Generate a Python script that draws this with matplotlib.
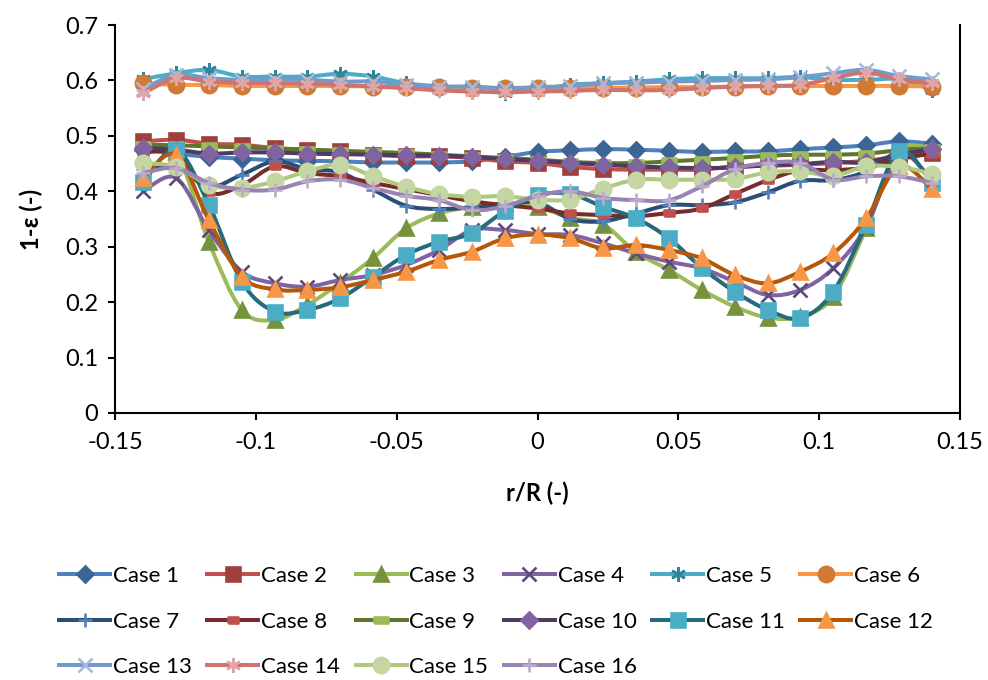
import numpy as np
import matplotlib
matplotlib.use("Agg")
import matplotlib.pyplot as plt
from matplotlib.path import Path
from matplotlib.patches import PathPatch
from matplotlib.lines import Line2D

plt.rcParams["font.family"] = ["Lato", "DejaVu Sans"]

# radial positions r/R
r = [-0.14, -0.1283, -0.1167, -0.105, -0.0933, -0.0817, -0.07, -0.0583, -0.0467,
     -0.035, -0.0233, -0.0117, 0.0, 0.0117, 0.0233, 0.035, 0.0467, 0.0583, 0.07,
     0.0817, 0.0933, 0.105, 0.1167, 0.1283, 0.14]

case1 = [0.475, 0.468, 0.462, 0.459, 0.456, 0.455, 0.454, 0.452, 0.452, 0.452, 0.454, 0.462, 0.471,
         0.474, 0.476, 0.475, 0.473, 0.471, 0.472, 0.472, 0.476, 0.479, 0.483, 0.490, 0.486]
case2 = [0.490, 0.493, 0.486, 0.484, 0.478, 0.475, 0.472, 0.466, 0.463, 0.463, 0.460, 0.454, 0.451,
         0.444, 0.440, 0.439, 0.439, 0.439, 0.445, 0.446, 0.448, 0.451, 0.455, 0.463, 0.469]
case3 = [0.468, 0.470, 0.309, 0.186, 0.168, 0.195, 0.235, 0.280, 0.333, 0.360, 0.372, 0.378, 0.372,
         0.352, 0.340, 0.290, 0.258, 0.222, 0.192, 0.172, 0.174, 0.210, 0.333, 0.470, 0.478]
case4 = [0.400, 0.424, 0.330, 0.255, 0.234, 0.228, 0.240, 0.249, 0.267, 0.294, 0.330, 0.330, 0.323,
         0.321, 0.306, 0.288, 0.273, 0.261, 0.237, 0.213, 0.222, 0.261, 0.336, 0.465, 0.420]
case5 = [0.602, 0.613, 0.619, 0.607, 0.607, 0.607, 0.612, 0.607, 0.595, 0.589, 0.583, 0.578, 0.583,
         0.592, 0.595, 0.598, 0.602, 0.604, 0.604, 0.604, 0.606, 0.601, 0.601, 0.602, 0.583]
case6 = [0.595, 0.592, 0.592, 0.590, 0.590, 0.590, 0.590, 0.589, 0.589, 0.588, 0.586, 0.586, 0.586,
         0.586, 0.587, 0.587, 0.588, 0.588, 0.589, 0.590, 0.590, 0.590, 0.590, 0.590, 0.589]
case7 = [0.440, 0.445, 0.408, 0.430, 0.454, 0.440, 0.434, 0.403, 0.374, 0.368, 0.371, 0.375, 0.380,
         0.350, 0.346, 0.360, 0.375, 0.375, 0.380, 0.398, 0.419, 0.420, 0.436, 0.472, 0.476]
case8 = [0.470, 0.466, 0.398, 0.411, 0.445, 0.433, 0.427, 0.415, 0.404, 0.393, 0.382, 0.375, 0.369,
         0.360, 0.357, 0.355, 0.361, 0.369, 0.395, 0.420, 0.438, 0.438, 0.443, 0.458, 0.468]
case9 = [0.484, 0.483, 0.481, 0.479, 0.477, 0.475, 0.473, 0.471, 0.469, 0.466, 0.463, 0.460, 0.457,
         0.453, 0.451, 0.451, 0.454, 0.457, 0.460, 0.464, 0.466, 0.466, 0.468, 0.474, 0.478]
case10 = [0.478, 0.475, 0.468, 0.470, 0.470, 0.468, 0.467, 0.466, 0.465, 0.464, 0.462, 0.458, 0.455,
          0.451, 0.448, 0.445, 0.443, 0.442, 0.443, 0.447, 0.449, 0.453, 0.452, 0.466, 0.476]
case11 = [0.416, 0.475, 0.376, 0.237, 0.183, 0.186, 0.207, 0.246, 0.285, 0.309, 0.324, 0.364, 0.393,
          0.395, 0.372, 0.351, 0.315, 0.262, 0.219, 0.186, 0.171, 0.219, 0.340, 0.472, 0.415]
case12 = [0.424, 0.466, 0.348, 0.246, 0.223, 0.222, 0.227, 0.240, 0.255, 0.276, 0.291, 0.315, 0.322,
          0.315, 0.297, 0.303, 0.294, 0.279, 0.249, 0.234, 0.255, 0.288, 0.351, 0.445, 0.404]
case13 = [0.585, 0.610, 0.604, 0.601, 0.601, 0.601, 0.598, 0.598, 0.592, 0.589, 0.589, 0.586, 0.588,
          0.590, 0.595, 0.596, 0.598, 0.599, 0.601, 0.602, 0.606, 0.613, 0.619, 0.608, 0.602]
case14 = [0.577, 0.604, 0.598, 0.596, 0.595, 0.594, 0.592, 0.589, 0.586, 0.582, 0.580, 0.579, 0.580,
          0.581, 0.583, 0.582, 0.583, 0.586, 0.589, 0.590, 0.592, 0.604, 0.614, 0.602, 0.595]
case15 = [0.451, 0.444, 0.412, 0.406, 0.418, 0.436, 0.448, 0.427, 0.408, 0.395, 0.390, 0.391, 0.385,
          0.385, 0.405, 0.421, 0.421, 0.421, 0.422, 0.434, 0.436, 0.428, 0.445, 0.444, 0.432]
case16 = [0.433, 0.442, 0.415, 0.403, 0.403, 0.418, 0.421, 0.406, 0.392, 0.384, 0.366, 0.373, 0.392,
          0.400, 0.388, 0.384, 0.384, 0.409, 0.440, 0.451, 0.451, 0.421, 0.427, 0.427, 0.415]

labels = ["Case %d" % i for i in range(1, 17)]
series = [case1, case2, case3, case4, case5, case6, case7, case8,
          case9, case10, case11, case12, case13, case14, case15, case16]

line_colors = ["#4F81BD", "#C0504D", "#9BBB59", "#8064A2", "#4BACC6", "#F79646",
               "#2C4D75", "#772C2A", "#5F7530", "#4D3B62", "#276A7C", "#B65708",
               "#729ACA", "#CD7371", "#AFC97A", "#9983B5"]
marker_colors = ["#3A6595", "#A0403D", "#76923C", "#5F497A", "#31859C", "#CF7B36",
                 "#4F81BD", "#C0504D", "#9BBB59", "#8064A2", "#4BACC6", "#F79646",
                 "#A3BCDD", "#DFA6A5", "#C4D7A2", "#BAABCD"]

dash = [(-1, -0.5), (1, -0.5), (1, 0.5), (-1, 0.5), (-1, -0.5)]
asterisk = (6, 2, 0)
markers = ["D", "s", "^", "x", asterisk, "o", "+", dash,
           dash, "D", "s", "^", "x", asterisk, "o", "+"]
msizes = [8.5, 10, 10.5, 9.5, 10.5, 11, 10.5, 7.5, 10, 8.5, 10, 10.5, 9.5, 10.5, 11, 10.5]

xticks = [-0.15, -0.1, -0.05, 0, 0.05, 0.1, 0.15]
xtick_labels = ["-0.15", "-0.1", "-0.05", "0", "0.05", "0.1", "0.15"]
yticks = [0, 0.1, 0.2, 0.3, 0.4, 0.5, 0.6, 0.7]
ytick_labels = ["0", "0.1", "0.2", "0.3", "0.4", "0.5", "0.6", "0.7"]


def smooth_path(x, y):
    # Catmull-Rom style bezier, close to Excel's smoothed lines
    pts = np.column_stack([x, y])
    n = len(pts)
    verts = [pts[0]]
    codes = [Path.MOVETO]
    for i in range(n - 1):
        p0 = pts[i - 1] if i > 0 else pts[i]
        p1 = pts[i]
        p2 = pts[i + 1]
        p3 = pts[i + 2] if i + 2 < n else pts[i + 1]
        verts += [p1 + (p2 - p0) / 6.0, p2 - (p3 - p1) / 6.0, p2]
        codes += [Path.CURVE4] * 3
    return Path(verts, codes)


fig = plt.figure(figsize=(9.88, 6.8), dpi=100)
ax = fig.add_axes([115 / 988, 1 - 413 / 680, 845 / 988, 388 / 680])

handles = []
for k, vals in enumerate(series):
    z = 2 + k
    patch = PathPatch(smooth_path(r, vals), fill=False, edgecolor=line_colors[k],
                      lw=2.9, capstyle="round", joinstyle="round", zorder=z)
    ax.add_patch(patch)
    ax.plot(r, vals, linestyle="none", marker=markers[k], ms=msizes[k],
            mfc=marker_colors[k], mec=marker_colors[k], mew=1.9, zorder=z + 0.5)
    handles.append(Line2D([], [], color=line_colors[k], lw=2.9, marker=markers[k],
                          ms=msizes[k], mfc=marker_colors[k], mec=marker_colors[k],
                          mew=1.9))

ax.set_xlim(-0.15, 0.15)
ax.set_ylim(0, 0.7)
ax.set_xticks(xticks)
ax.set_xticklabels(xtick_labels)
ax.set_yticks(yticks)
ax.set_yticklabels(ytick_labels)
ax.tick_params(axis="both", labelsize=17, direction="out", length=5, width=1.5,
               color="black")
ax.tick_params(axis="x", pad=9)
ax.tick_params(axis="y", pad=7)
ax.spines["top"].set_visible(False)
ax.spines["right"].set_visible(True)
for s in ["left", "bottom", "right"]:
    ax.spines[s].set_linewidth(1.5)
    ax.spines[s].set_color("black")

ax.set_xlabel("r/R (-)", fontsize=17, fontweight="bold", labelpad=20)
ax.set_ylabel("1-ε (-)", fontsize=17, fontweight="bold", labelpad=16)

# legend is filled column-wise, reorder so it reads row-wise like the original
order = [0, 6, 12, 1, 7, 13, 2, 8, 14, 3, 9, 15, 4, 10, 5, 11]
fig.legend([handles[i] for i in order], [labels[i] for i in order],
           loc="upper left", bbox_to_anchor=(48 / 988, 1 - 555 / 680), ncol=6,
           frameon=False, fontsize=16, handlelength=2.3, handletextpad=0.12,
           columnspacing=0.7, labelspacing=1.15, borderpad=0)

fig.savefig("out.png", dpi=100)
